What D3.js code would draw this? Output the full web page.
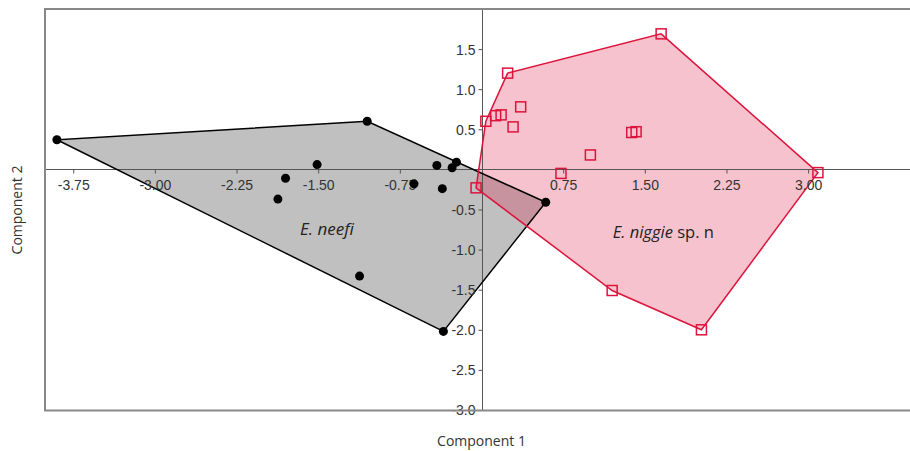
<!DOCTYPE html>
<html>
<head>
<meta charset="utf-8">
<script src="https://cdn.jsdelivr.net/npm/d3@7"></script>
<style>
  body { margin: 0; background: #fff; }
  svg { display: block; font-family: "Open Sans", "Noto Sans", sans-serif; }
  .tick text { fill: #333; font-size: 14px; }
  .tick line { stroke: #555; }
</style>
</head>
<body>
<div id="chart"></div>
<script>
const width = 910, height = 451;

// E. neefi scores (component 1, component 2)
const neefiX = [-3.90, -1.05, -1.51, -1.80, -1.87, -0.62, -0.41, -0.36, -0.27, -0.23, 0.59, -0.35, -1.12];
const neefiY = [0.37, 0.60, 0.06, -0.11, -0.37, -0.18, 0.05, -0.24, 0.02, 0.09, -0.41, -2.02, -1.33];

// E. niggie sp. n scores
const niggieX = [0.04, 0.24, 0.13, 0.18, 0.36, 0.29, 1.00, 0.73, 1.38, 1.42, 1.65, 3.09, 2.02, 1.20, -0.05];
const niggieY = [0.60, 1.20, 0.67, 0.68, 0.78, 0.53, 0.18, -0.05, 0.46, 0.47, 1.69, -0.04, -2.00, -1.51, -0.23];

const xTicks = [-3.75, -3.00, -2.25, -1.50, -0.75, 0.75, 1.50, 2.25, 3.00];
const yTicks = [1.5, 1.0, 0.5, -0.5, -1.0, -1.5, -2.0, -2.5, -3.0];

const x = d3.scaleLinear().domain([-4, 4]).range([46, 917]);
const y = d3.scaleLinear().domain([-3, 2]).range([410, 9]);

const svg = d3.select("#chart").append("svg")
  .attr("width", width)
  .attr("height", height);

const neefi = neefiX.map((v, i) => [x(v), y(neefiY[i])]);
const niggie = niggieX.map((v, i) => [x(v), y(niggieY[i])]);

// convex hulls
const hullA = d3.polygonHull(neefi);
const hullB = d3.polygonHull(niggie);
const line = d3.line().curve(d3.curveLinearClosed);

svg.append("path")
  .attr("d", line(hullA))
  .attr("fill", "#c0c0c0");
svg.append("path")
  .attr("d", line(hullB))
  .attr("fill", "#dc143c")
  .attr("fill-opacity", 0.26);

// zero lines
svg.append("line")
  .attr("x1", 46).attr("x2", width)
  .attr("y1", Math.round(y(0)) + 0.5).attr("y2", Math.round(y(0)) + 0.5)
  .attr("stroke", "#555");
svg.append("line")
  .attr("x1", Math.round(x(0)) + 0.5).attr("x2", Math.round(x(0)) + 0.5)
  .attr("y1", 9).attr("y2", 410)
  .attr("stroke", "#555");

svg.append("path")
  .attr("d", line(hullA))
  .attr("fill", "none")
  .attr("stroke", "#000")
  .attr("stroke-width", 1.5);
svg.append("path")
  .attr("d", line(hullB))
  .attr("fill", "none")
  .attr("stroke", "#dc143c")
  .attr("stroke-width", 1.5);

// axes through the origin
const xAxis = svg.append("g")
  .attr("transform", `translate(0,${Math.round(y(0)) + 0.5})`)
  .call(d3.axisBottom(x).tickValues(xTicks).tickFormat(d => d.toFixed(2))
    .tickSize(4).tickSizeOuter(0).tickPadding(7));
xAxis.select(".domain").remove();

const yAxis = svg.append("g")
  .attr("transform", `translate(${Math.round(x(0)) + 0.5},0)`)
  .call(d3.axisLeft(y).tickValues(yTicks).tickFormat(d => d.toFixed(1))
    .tickSize(4).tickSizeOuter(0).tickPadding(3));
yAxis.select(".domain").remove();
yAxis.selectAll(".tick text").attr("dy", "0.35em");

// points
svg.append("g").selectAll("circle")
  .data(neefi)
  .enter()
  .append("circle")
    .attr("cx", d => d[0])
    .attr("cy", d => d[1])
    .attr("r", 4.5)
    .attr("fill", "#000");

svg.append("g").selectAll("rect")
  .data(niggie)
  .enter()
  .append("rect")
    .attr("x", d => d[0] - 5)
    .attr("y", d => d[1] - 5)
    .attr("width", 10)
    .attr("height", 10)
    .attr("fill", "none")
    .attr("stroke", "#dc143c")
    .attr("stroke-width", 1.5);

// frame
svg.append("path")
  .attr("d", `M${width + 5},9H45V410.5H${width + 5}`)
  .attr("fill", "none")
  .attr("stroke", "#888")
  .attr("stroke-width", 2);

// group labels
svg.append("text")
  .attr("x", x(-1.42)).attr("y", y(-0.82))
  .attr("text-anchor", "middle")
  .attr("font-size", 17)
  .attr("font-style", "italic")
  .attr("fill", "#222")
  .text("E. neefi");

const lab = svg.append("text")
  .attr("x", x(1.67)).attr("y", y(-0.85))
  .attr("text-anchor", "middle")
  .attr("font-size", 16.5)
  .attr("fill", "#222");
lab.append("tspan").attr("font-style", "italic").text("E. niggie");
lab.append("tspan").text(" sp. n");

// axis titles
svg.append("text")
  .attr("x", x(0)).attr("y", 446)
  .attr("text-anchor", "middle")
  .attr("font-size", 14)
  .attr("fill", "#333")
  .text("Component 1");

svg.append("text")
  .attr("transform", `translate(22,${210}) rotate(-90)`)
  .attr("text-anchor", "middle")
  .attr("font-size", 14)
  .attr("fill", "#333")
  .text("Component 2");
</script>
</body>
</html>
